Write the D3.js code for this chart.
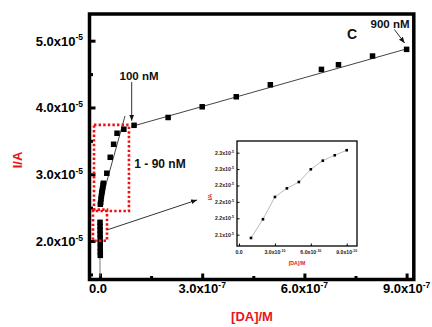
<!DOCTYPE html>
<html><head><meta charset="utf-8">
<script src="https://cdn.jsdelivr.net/npm/d3@7"></script>
<style>
html,body{margin:0;padding:0;background:#fff;}
svg{display:block;font-family:"Liberation Sans",Arial,sans-serif;}
</style></head>
<body><svg id="c" width="432" height="327"></svg>
<script>
// ---- main plot data ----
const highX = [1e-7, 2e-7, 3e-7, 4e-7, 5e-7, 6.5e-7, 7e-7, 8e-7, 9e-7];
const highY = [3.733e-5, 3.85e-5, 4.01e-5, 4.16e-5, 4.34e-5, 4.57e-5, 4.64e-5, 4.77e-5, 4.87e-5];
const lowX = [1e-9, 2e-9, 3e-9, 4e-9, 5e-9, 6e-9, 7e-9, 8e-9, 9e-9, 1e-8, 2e-8, 3e-8, 4e-8, 5e-8, 7e-8];
const lowY = [2.55e-5, 2.58e-5, 2.63e-5, 2.67e-5, 2.71e-5, 2.74e-5, 2.77e-5, 2.80e-5, 2.84e-5, 2.865e-5, 3.015e-5, 3.254e-5, 3.449e-5, 3.614e-5, 3.674e-5];
const barX = [1e-10, 2e-10, 3e-10, 4e-10, 5e-10, 6e-10, 7e-10, 8e-10, 9e-10];
const barY = [2.28e-5, 2.22e-5, 2.16e-5, 2.10e-5, 2.04e-5, 1.97e-5, 1.90e-5, 1.84e-5, 1.785e-5];
const fitHighX = [9.3e-8, 9.04e-7];
const fitHighY = [3.716e-5, 4.883e-5];
const fitLowX = [0, 7.34e-8];
const fitLowY = [2.525e-5, 3.873e-5];
const tailX = [0, 0];
const tailY = [1.75e-5, 1.47e-5];
const xTicks = [0, 3e-7, 6e-7, 9e-7];
const xTickLabels = ["0.0", "3.0x10", "6.0x10", "9.0x10"];
const xTickExp = ["", "-7", "-7", "-7"];
const yTicks = [2e-5, 3e-5, 4e-5, 5e-5];
const yTickLabels = ["2.0x10", "3.0x10", "4.0x10", "5.0x10"];
const yTickExp = ["-5", "-5", "-5", "-5"];
// ---- inset data ----
const insetX = [1e-10, 2e-10, 3e-10, 4e-10, 5e-10, 6e-10, 7e-10, 8e-10, 9e-10];
const insetY = [2.112e-5, 2.1576e-5, 2.212e-5, 2.233e-5, 2.2485e-5, 2.2795e-5, 2.3005e-5, 2.3137e-5, 2.326e-5];
const insetXTicks = [0, 3e-10, 6e-10, 9e-10];
const insetXLabels = ["0.0", "3.0x10", "6.0x10", "9.0x10"];
const insetXExp = ["", "-10", "-10", "-10"];
const insetYTicks = [2.12e-5, 2.16e-5, 2.20e-5, 2.24e-5, 2.28e-5, 2.32e-5];
const insetYLabels = ["2.1x10", "2.2x10", "2.2x10", "2.2x10", "2.3x10", "2.3x10"];
const insetYExp = ["-5", "-5", "-5", "-5", "-5", "-5"];

const svg = d3.select("#c");
const L = 89.5, R = 413.8, T = 14, B = 279.5;
const x = d3.scaleLinear().domain([-3.08e-8, 9.211e-7]).range([L, R]);
const y = d3.scaleLinear().domain([1.4237e-5, 5.3997e-5]).range([B, T]);

const defs = svg.append("defs");
defs.append("marker").attr("id", "ah").attr("viewBox", "0 0 10 10").attr("refX", 10).attr("refY", 5)
  .attr("markerWidth", 6).attr("markerHeight", 6).attr("markerUnits", "userSpaceOnUse").attr("orient", "auto")
  .append("path").attr("d", "M0,1 L10,5 L0,9 Z").attr("fill", "#111");
defs.append("clipPath").attr("id", "clip").append("rect").attr("x", L).attr("y", T).attr("width", R - L).attr("height", B - T);

// axes with inward ticks
const xMinor = [1.5e-7, 4.5e-7, 7.5e-7];
const yMinor = [1.5e-5, 2.5e-5, 3.5e-5, 4.5e-5];
const gAx = svg.append("g");
gAx.append("g").attr("transform", `translate(0,${B})`)
  .call(d3.axisBottom(x).tickValues(xTicks).tickSize(-6).tickFormat(""))
  .call(g => { g.select(".domain").remove(); g.selectAll("line").attr("stroke", "#000").attr("stroke-width", 3); });
gAx.append("g").attr("transform", `translate(0,${B})`)
  .call(d3.axisBottom(x).tickValues(xMinor).tickSize(-3.5).tickFormat(""))
  .call(g => { g.select(".domain").remove(); g.selectAll("line").attr("stroke", "#000").attr("stroke-width", 3); });
gAx.append("g").attr("transform", `translate(${L},0)`)
  .call(d3.axisLeft(y).tickValues(yTicks).tickSize(-6).tickFormat(""))
  .call(g => { g.select(".domain").remove(); g.selectAll("line").attr("stroke", "#000").attr("stroke-width", 3); });
gAx.append("g").attr("transform", `translate(${L},0)`)
  .call(d3.axisLeft(y).tickValues(yMinor).tickSize(-3.5).tickFormat(""))
  .call(g => { g.select(".domain").remove(); g.selectAll("line").attr("stroke", "#000").attr("stroke-width", 3); });
svg.append("rect").attr("x", L).attr("y", T).attr("width", R - L).attr("height", B - T)
  .attr("fill", "none").attr("stroke", "#000").attr("stroke-width", 3.5);

// tick labels
function supText(sel, base, exp, fs, efs, dy) {
  sel.append("tspan").text(base);
  if (exp) sel.append("tspan").attr("font-size", efs).attr("dy", dy).text(exp);
}
xTicks.forEach((v, i) => {
  const t = svg.append("text").attr("x", x(v) + (i === 0 ? -2 : 0)).attr("y", 293).attr("text-anchor", "middle")
    .attr("font-size", 13).attr("font-weight", "bold").attr("fill", "#000");
  supText(t, xTickLabels[i], xTickExp[i], 13, 8.5, -5.5);
});
yTicks.forEach((v, i) => {
  const t = svg.append("text").attr("x", 83).attr("y", y(v) + 5).attr("text-anchor", "end")
    .attr("font-size", 13).attr("font-weight", "bold").attr("fill", "#000");
  supText(t, yTickLabels[i], yTickExp[i], 13, 8.5, -5.5);
});
svg.append("text").attr("x", 252).attr("y", 321).attr("text-anchor", "middle").attr("font-size", 13)
  .attr("font-weight", "bold").attr("fill", "#e8141b").text("[DA]/M");
svg.append("text").attr("transform", "translate(22,160) rotate(-90)").attr("text-anchor", "middle").attr("font-size", 13)
  .attr("font-weight", "bold").attr("fill", "#e8141b").text("I/A");

const plot = svg.append("g").attr("clip-path", "url(#clip)");
const line = d3.line().x(d => x(d[0])).y(d => y(d[1]));
plot.append("path").datum(d3.zip(fitHighX, fitHighY)).attr("d", line).attr("stroke", "#444").attr("stroke-width", 1).attr("fill", "none");
plot.append("path").datum(d3.zip(fitLowX, fitLowY)).attr("d", line).attr("stroke", "#444").attr("stroke-width", 1).attr("fill", "none");
plot.append("path").datum(d3.zip(tailX, tailY)).attr("d", line).attr("stroke", "#777").attr("stroke-width", 1).attr("fill", "none");

const sq = 5.5;
function squares(xs, ys) {
  plot.append("g").selectAll("rect").data(d3.zip(xs, ys)).join("rect")
    .attr("x", d => x(d[0]) - sq / 2).attr("y", d => y(d[1]) - sq / 2).attr("width", sq).attr("height", sq).attr("fill", "#000");
}
squares(highX, highY);
squares(lowX, lowY);
squares(barX, barY);

// red dotted boxes
function box(x0, x1, y0, y1) {
  svg.append("rect").attr("x", x(x0)).attr("y", y(y1)).attr("width", x(x1) - x(x0)).attr("height", y(y0) - y(y1))
    .attr("fill", "none").attr("stroke", "#f01010").attr("stroke-width", 2.6).attr("stroke-dasharray", "2.4,2.2");
}
box(-1.76e-8, 8.5e-8, 2.45e-5, 3.74e-5);
box(-2.05e-8, 2.05e-8, 2.005e-5, 2.47e-5);

// annotations
function arrow(x0, y0, x1, y1) {
  svg.append("line").attr("x1", x(x0)).attr("y1", y(y0)).attr("x2", x(x1)).attr("y2", y(y1))
    .attr("stroke", "#333").attr("stroke-width", 1).attr("marker-end", "url(#ah)");
}
arrow(9.3e-8, 4.38e-5, 9.3e-8, 3.80e-5);
arrow(8.64e-7, 5.168e-5, 8.94e-7, 4.966e-5);
arrow(2.05e-8, 2.166e-5, 2.85e-7, 2.615e-5);
function label(tx, px, py, fs) {
  svg.append("text").attr("x", px).attr("y", py).attr("text-anchor", "middle").attr("font-size", fs)
    .attr("font-weight", "bold").attr("fill", "#111").text(tx);
}
label("100 nM", 139, 80, 11.5);
label("900 nM", 390, 28, 11.5);
label("C", 352, 38.5, 14);
label("1 - 90 nM", 160, 168, 12);

// ---- inset ----
const iL = 237, iR = 357, iT = 141, iB = 246;
const xi = d3.scaleLinear().domain([-0.17e-10, 9.86e-10]).range([iL, iR]);
const yi = d3.scaleLinear().domain([2.0924e-5, 2.3485e-5]).range([iB, iT]);
const gi = svg.append("g");
gi.append("rect").attr("x", iL).attr("y", iT).attr("width", iR - iL).attr("height", iB - iT).attr("fill", "#fff").attr("stroke", "#000").attr("stroke-width", 1.3);
gi.append("g").attr("transform", `translate(0,${iB})`)
  .call(d3.axisBottom(xi).tickValues(insetXTicks).tickSize(-2.5).tickFormat(""))
  .call(g => { g.select(".domain").remove(); g.selectAll("line").attr("stroke", "#000"); });
gi.append("g").attr("transform", `translate(${iL},0)`)
  .call(d3.axisLeft(yi).tickValues(insetYTicks).tickSize(-2.5).tickFormat(""))
  .call(g => { g.select(".domain").remove(); g.selectAll("line").attr("stroke", "#000"); });
insetXTicks.forEach((v, i) => {
  const t = gi.append("text").attr("x", xi(v)).attr("y", 254).attr("text-anchor", "middle").attr("font-size", 5.2).attr("font-weight", "bold").attr("fill", "#222");
  supText(t, insetXLabels[i], insetXExp[i], 5.2, 3.5, -2);
});
insetYTicks.forEach((v, i) => {
  const t = gi.append("text").attr("x", 234).attr("y", yi(v) + 2).attr("text-anchor", "end").attr("font-size", 5.2).attr("font-weight", "bold").attr("fill", "#222");
  supText(t, insetYLabels[i], insetYExp[i], 5.2, 3.5, -2);
});
gi.append("text").attr("x", 297).attr("y", 265).attr("text-anchor", "middle").attr("font-size", 5.2).attr("font-weight", "bold").attr("fill", "#e8141b").text("[DA]/M");
gi.append("text").attr("transform", "translate(212,197) rotate(-90)").attr("text-anchor", "middle").attr("font-size", 5.2).attr("font-weight", "bold").attr("fill", "#e8141b").text("I/A");
const li = d3.line().x(d => xi(d[0])).y(d => yi(d[1]));
gi.append("path").datum(d3.zip(insetX, insetY)).attr("d", li).attr("stroke", "#aaa").attr("stroke-width", 0.8).attr("fill", "none");
gi.append("g").selectAll("rect").data(d3.zip(insetX, insetY)).join("rect")
  .attr("x", d => xi(d[0]) - 1.3).attr("y", d => yi(d[1]) - 1.3).attr("width", 2.6).attr("height", 2.6).attr("fill", "#000");
</script></body></html>
